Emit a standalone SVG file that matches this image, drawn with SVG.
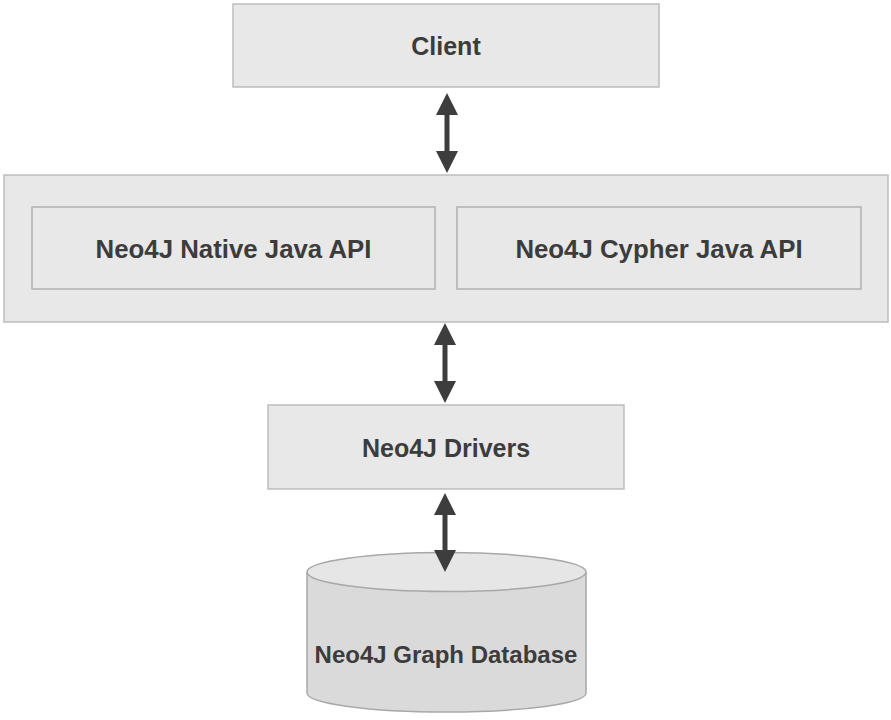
<svg xmlns="http://www.w3.org/2000/svg" width="891" height="720" viewBox="0 0 891 720">
<style>
.box{fill:#e8e8e8;stroke:#bdbdbd;stroke-width:1.5}
.inner{fill:#e8e8e8;stroke:#b0b0b0;stroke-width:1.5}
.lbl{font-family:"Liberation Sans",Arial,sans-serif;font-weight:bold;font-size:25px;fill:#3c3c3c;text-anchor:middle}
.api{font-size:25.8px}
.db{font-size:24px}
.conn{stroke:#3d3d3d;stroke-width:5;fill:none;marker-start:url(#ah);marker-end:url(#ah)}
.cyl{fill:#dadada;stroke:#a8a8a8;stroke-width:1.5}
.cyltop{fill:#e6e6e6;stroke:#a8a8a8;stroke-width:1.5}
</style>
<defs>
<marker id="ah" viewBox="0 0 22 22" refX="12" refY="11" markerWidth="22" markerHeight="22" markerUnits="userSpaceOnUse" orient="auto-start-reverse">
<path d="M0,0 L22,11 L0,22 z" fill="#3d3d3d"/>
</marker>
</defs>
<rect width="891" height="720" fill="#ffffff"/>
<g id="client">
<rect class="box" x="233" y="4" width="426" height="83"/>
<text class="lbl" x="446" y="55">Client</text>
</g>
<g id="api-layer">
<rect class="box" x="4" y="175" width="884" height="147"/>
</g>
<g id="native-api">
<rect class="inner" x="32" y="207" width="403" height="82"/>
<text class="lbl api" x="233.5" y="258">Neo4J Native Java API</text>
</g>
<g id="cypher-api">
<rect class="inner" x="457" y="207" width="404" height="82"/>
<text class="lbl api" x="659" y="258">Neo4J Cypher Java API</text>
</g>
<g id="drivers">
<rect class="box" x="268" y="405" width="356" height="84"/>
<text class="lbl" x="446" y="457">Neo4J Drivers</text>
</g>
<g id="database">
<path class="cyl" d="M307,572 L307,693 A139.5,19 0 0 0 586,693 L586,572"/>
<ellipse class="cyltop" cx="446.5" cy="572" rx="139.5" ry="19.5"/>
<text class="lbl db" x="446" y="663">Neo4J Graph Database</text>
</g>
<g id="connectors">
<line class="conn" x1="447" y1="103" x2="447" y2="163"/>
<line class="conn" x1="445" y1="333" x2="445" y2="393"/>
<line class="conn" x1="445" y1="503" x2="445" y2="562"/>
</g>
</svg>
